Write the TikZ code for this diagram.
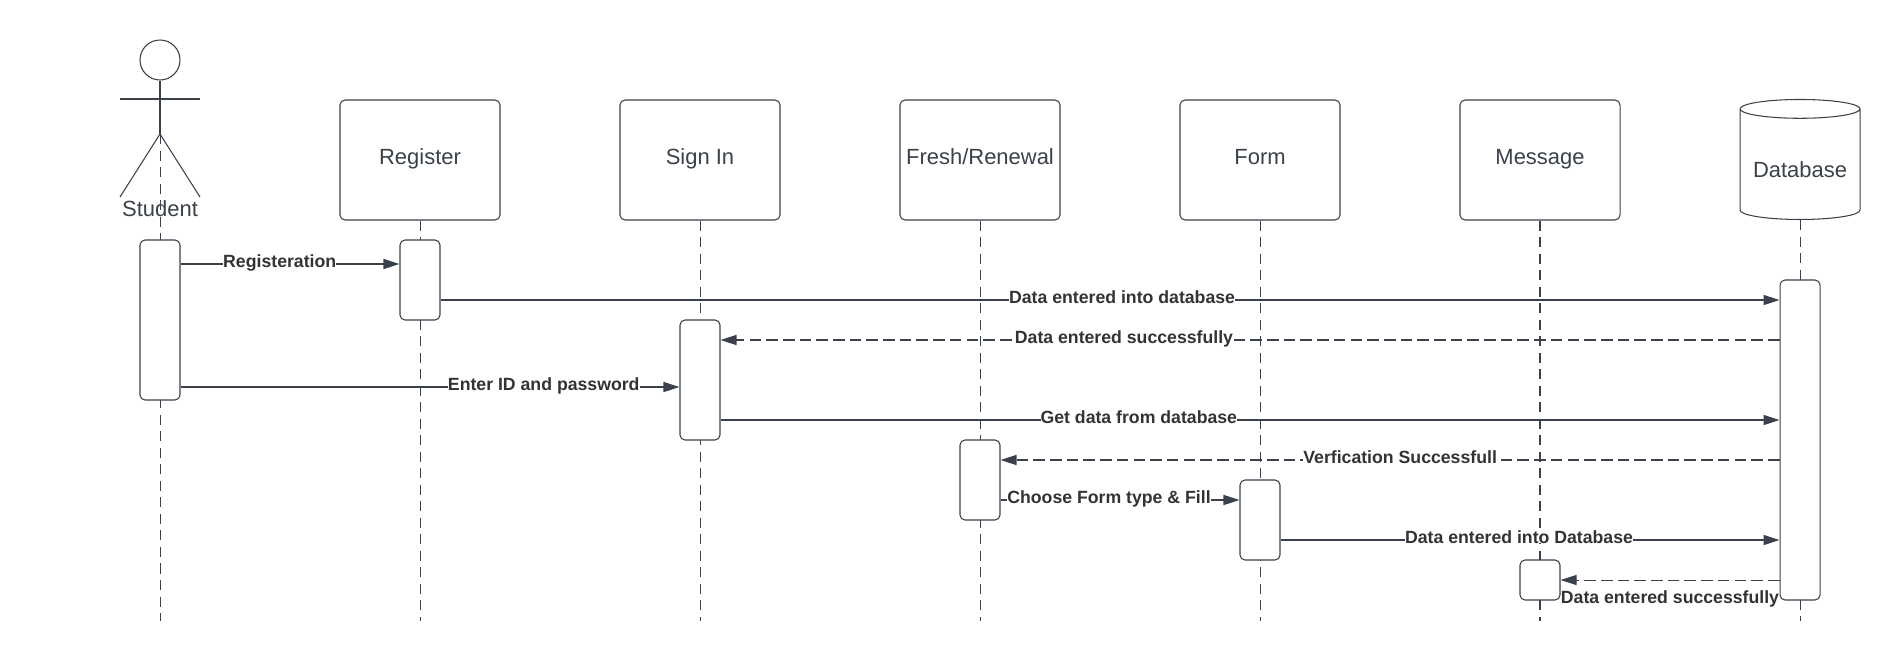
\documentclass[tikz,border=0pt]{standalone}
\usepackage{fontspec}
\setmainfont{Liberation Sans}
\usepackage{xcolor}
\usepackage{tikz}
\usetikzlibrary{arrows.meta,shapes.geometric}
\definecolor{inkline}{HTML}{3A414A}
\definecolor{inktext}{HTML}{333333}

\begin{document}
\begin{tikzpicture}
		\tikzstyle{every node}=[font=\fontsize{6.25pt}{7pt}\selectfont, text=inkline]
		\tikzstyle{unit}=[draw=inkline, line width=0.3pt, rounded corners=0.05cm, minimum width=1.6cm, minimum height=1.2cm, inner sep=0pt, text height=5.5pt, text depth=3pt]
		\tikzstyle{act}=[draw=inkline, line width=0.3pt, fill=white, rounded corners=0.05cm, minimum width=0.4cm, inner sep=0pt]
		\tikzstyle{life}=[draw=inkline, line width=0.28pt, dash pattern=on 2.85pt off 1.85pt]
		\tikzstyle{call}=[draw=inkline, line width=0.45pt, -{Triangle[length=1.6mm,width=1mm]}]
		\tikzstyle{back}=[call, dash pattern=on 3.3pt off 1.45pt]
		\tikzstyle{msgtext}=[font=\fontsize{5.03pt}{6pt}\bfseries\selectfont, text=inktext, fill=white, inner sep=0pt, anchor=base, yshift=-0.03cm]
		\useasboundingbox (0,0) rectangle (19,6.6);

		% student figure
		\node [circle, draw=inkline, line width=0.3pt, minimum size=0.4cm, inner sep=0pt] (head) at (1.6,6) {};
		\coordinate (hip) at (1.6,5.26);
		\coordinate (armL) at (1.2,5.61);
		\coordinate (armR) at (2,5.61);
		\coordinate (footL) at (1.2,4.63);
		\coordinate (footR) at (2,4.63);
		\draw [draw=inkline, line width=0.3pt] (head.south) to (hip);
		\draw [draw=inkline, line width=0.3pt] (armL) to (armR);
		\draw [draw=inkline, line width=0.3pt] (footL) to (hip) to (footR);
		\node [anchor=base] (student) at (1.6,4.44) {Student};

		% heads of the lifelines
		\node [unit] (register) at (4.2,5) {Register};
		\node [unit] (signin) at (7,5) {Sign In};
		\node [unit] (fresh) at (9.8,5) {Fresh/Renewal};
		\node [unit] (form) at (12.6,5) {Form};
		\node [unit] (message) at (15.4,5) {Message};
		\node [cylinder, shape border rotate=90, aspect=0.2, draw=inkline, line width=0.3pt, minimum width=1.2cm, minimum height=1.2cm, inner sep=0pt, text height=7.3pt, anchor=south] (database) at (18,4.4) {Database};

		% lifelines
		\coordinate (endS) at (1.6,0.39);
		\coordinate (endR) at (4.2,0.39);
		\coordinate (endI) at (7,0.39);
		\coordinate (endF) at (9.8,0.39);
		\coordinate (endO) at (12.6,0.39);
		\coordinate (endM) at (15.4,0.39);
		\coordinate (endD) at (18,0.39);
		\draw [life] (hip) -- (endS);
		\draw [life] (register.south) -- (endR);
		\draw [life] (signin.south) -- (endI);
		\draw [life] (fresh.south) -- (endF);
		\draw [life] (form.south) -- (endO);
		\draw [life, line width=0.45pt] (message.south) -- (endM);
		\draw [life] (database.south) -- (endD);

		% activation bars
		\node [act, minimum height=1.6cm] (actS) at (1.6,3.4) {};
		\node [act, minimum height=0.8cm] (actR) at (4.2,3.8) {};
		\node [act, minimum height=1.2cm] (actI) at (7,2.8) {};
		\node [act, minimum height=0.8cm] (actF) at (9.8,1.8) {};
		\node [act, minimum height=0.8cm] (actO) at (12.6,1.4) {};
		\node [act, minimum height=0.4cm] (actM) at (15.4,0.8) {};
		\node [act, minimum height=3.2cm] (actD) at (18,2.2) {};

		% message levels
		\coordinate (m1) at (0,3.96);
		\coordinate (m2) at (0,3.6);
		\coordinate (m3) at (0,3.2);
		\coordinate (m4) at (0,2.73);
		\coordinate (m5) at (0,2.4);
		\coordinate (m6) at (0,2);
		\coordinate (m7) at (0,1.6);
		\coordinate (m8) at (0,1.2);
		\coordinate (m9) at (0,0.8);

		\draw [call] (actS.east |- m1) -- node [msgtext, pos=0.453] (t1) {Registeration} (actR.west |- m1);
		\draw [call] (actR.east |- m2) -- node [msgtext, pos=0.509] (t2) {Data entered into database} (actD.west |- m2);
		\draw [back] (actD.west |- m3) -- node [msgtext, pos=0.619] (t3) {Data entered successfully} (actI.east |- m3);
		\draw [call] (actS.east |- m4) -- node [msgtext, pos=0.728] (t4) {Enter ID and password} (actI.west |- m4);
		\draw [call] (actI.east |- m5) -- node [msgtext, pos=0.395] (t5) {Get data from database} (actD.west |- m5);
		\draw [back] (actD.west |- m6) -- node [msgtext, pos=0.487] (t6) {Verfication Successfull} (actF.east |- m6);
		\draw [call] (actF.east |- m7) -- node [msgtext, pos=0.454] (t7) {Choose Form type \& Fill} (actO.west |- m7);
		\draw [call] (actO.east |- m8) -- node [msgtext, pos=0.478] (t8) {Data entered into Database} (actD.west |- m8);
		\draw [back, line width=0.28pt] (actD.west |- m9) -- node [msgtext, pos=0.5, yshift=-0.2cm] (t9) {Data entered successfully} (actM.east |- m9);

	\end{tikzpicture}
\end{document}
